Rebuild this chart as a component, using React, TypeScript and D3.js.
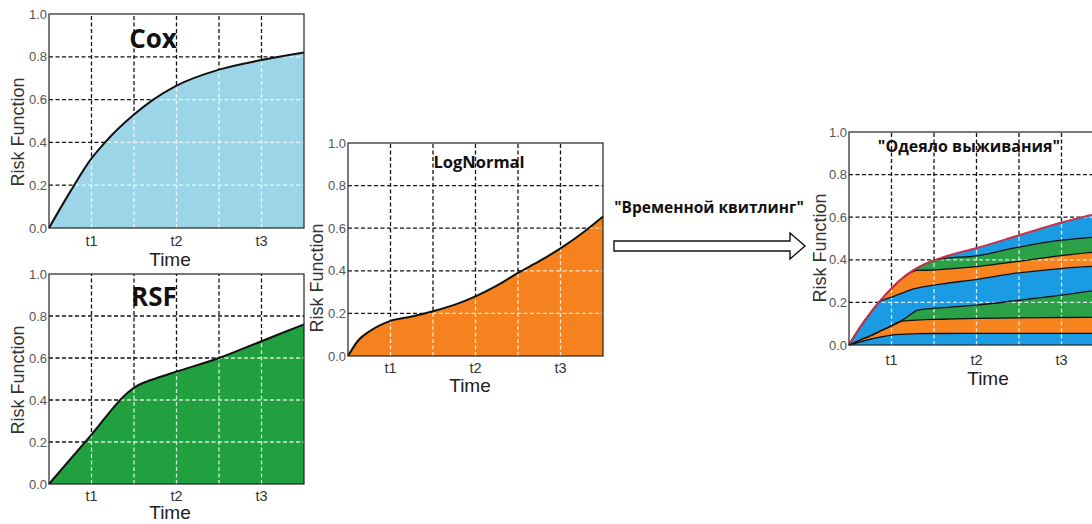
import React from 'react';
import * as d3 from 'd3';

// shared axes
const timeGrid = [1, 2, 3, 4, 5];
const timeTicks = [1, 3, 5];
const timeTickLabels = ['t1', 't2', 't3'];
const riskTicks = [0, 0.2, 0.4, 0.6, 0.8, 1.0];

// Cox
const coxTime = [0, 0.5, 1, 1.34, 2, 2.42, 3, 4, 5, 6];
const coxRisk = [0, 0.17, 0.325, 0.405, 0.53, 0.595, 0.665, 0.74, 0.785, 0.82];

// RSF
const rsfTime = [0, 1, 1.85, 2.05, 2.4, 3, 4, 5, 6];
const rsfRisk = [0, 0.235, 0.435, 0.465, 0.495, 0.535, 0.6, 0.68, 0.76];

// LogNormal
const logTime = [0, 0.25, 0.5, 1, 1.5, 2, 2.5, 3, 3.5, 4, 4.5, 5, 5.5, 6];
const logRisk = [0, 0.075, 0.115, 0.165, 0.185, 0.21, 0.24, 0.28, 0.33, 0.39, 0.445, 0.505, 0.575, 0.655];

// survival blanket: layer boundaries, bottom to top
const blanketTime = [0, 0.25, 0.5, 0.7, 1, 1.2, 1.5, 1.6, 2, 2.2, 3, 4, 5, 6];
const blanketB1 = [0, 0.014, 0.027, 0.036, 0.046, 0.05, 0.052, 0.053, 0.054, 0.054, 0.055, 0.055, 0.055, 0.055];
const blanketB2 = [0, 0.022, 0.043, 0.062, 0.09, 0.11, 0.116, 0.117, 0.12, 0.121, 0.125, 0.127, 0.129, 0.13];
const blanketB3 = [0, 0.022, 0.043, 0.062, 0.09, 0.11, 0.15, 0.163, 0.172, 0.175, 0.187, 0.21, 0.234, 0.262];
const blanketB4 = [0, 0.08, 0.15, 0.2, 0.225, 0.24, 0.262, 0.267, 0.281, 0.287, 0.308, 0.339, 0.359, 0.372];
const blanketB5 = [0, 0.08, 0.15, 0.2, 0.266, 0.304, 0.345, 0.35, 0.352, 0.355, 0.368, 0.393, 0.42, 0.44];
const blanketB6 = [0, 0.08, 0.15, 0.2, 0.266, 0.304, 0.349, 0.361, 0.397, 0.405, 0.418, 0.46, 0.492, 0.51];
const blanketTop = [0, 0.08, 0.15, 0.2, 0.266, 0.304, 0.349, 0.361, 0.397, 0.411, 0.455, 0.515, 0.575, 0.625];
const blanketColors = ['#1b9be3', '#f7841f', '#2aa147', '#1b9be3', '#f7841f', '#2aa147', '#1b9be3'];

const sans = 'Liberation Sans, Arial, sans-serif';
const ui = '"Open Sans", "Noto Sans", sans-serif';

type Layer = { lower: number[]; upper: number[]; fill: string };

function Panel(props: {
  id: string;
  left: number; right: number; top: number; bottom: number;
  time: number[];
  layers: Layer[];
  lines: number[][];
  topLine: number[];
  topStroke: string;
  title: string; titleSize: number; titleX: number; titleY: number;
  tickDy: number; timeDy: number; timeX: number;
  labelX: number; labelY: number;
}) {
  const p = props;
  const x = d3.scaleLinear().domain([0, 6]).range([p.left, p.right]);
  const y = d3.scaleLinear().domain([0, 1]).range([p.bottom, p.top]);
  const idx = d3.range(p.time.length);
  const area = (lo: number[], hi: number[]) =>
    d3.area<number>().x(i => x(p.time[i])).y0(i => y(lo[i])).y1(i => y(hi[i])).curve(d3.curveMonotoneX)(idx) || '';
  const line = (v: number[]) =>
    d3.line<number>().x(i => x(p.time[i])).y(i => y(v[i])).curve(d3.curveMonotoneX)(idx) || '';
  const zero = p.time.map(() => 0);

  const grid = (stroke: string, op: number) => (
    <g stroke={stroke} strokeOpacity={op} strokeWidth={1.3} strokeDasharray="4,2.5" fill="none">
      {timeGrid.map(t => <line key={'v' + t} x1={x(t)} x2={x(t)} y1={y(0)} y2={y(1)} />)}
      {riskTicks.slice(1, 5).map(r => <line key={'h' + r} x1={x(0)} x2={x(6)} y1={y(r)} y2={y(r)} />)}
    </g>
  );

  return (
    <g>
      <defs>
        <clipPath id={p.id + '-fill'}>
          <path d={area(zero, p.topLine)} />
        </clipPath>
      </defs>
      {grid('#111', 1)}
      {p.layers.map((l, i) => <path key={i} d={area(l.lower, l.upper)} fill={l.fill} />)}
      <g clipPath={`url(#${p.id}-fill)`}>{grid('#fff', 0.8)}</g>
      {p.lines.map((v, i) => <path key={i} d={line(v)} fill="none" stroke="#111" strokeWidth={1.3} />)}
      <path d={line(p.topLine)} fill="none" stroke={p.topStroke} strokeWidth={2} />
      <rect x={x(0)} y={y(1)} width={x(6) - x(0)} height={y(0) - y(1)} fill="none" stroke="#222" strokeWidth={1.2} />
      {riskTicks.map(r => (
        <text key={r} x={x(0) - 2} y={y(r) + 4.5} textAnchor="end" fontFamily={sans} fontSize={13} fill="#555">
          {d3.format('.1f')(r)}
        </text>
      ))}
      {timeTicks.map((t, i) => (
        <text key={t} x={x(t)} y={y(0) + p.tickDy} textAnchor="middle" fontFamily={sans} fontSize={14.5} fill="#333">
          {timeTickLabels[i]}
        </text>
      ))}
      <text x={p.timeX} y={y(0) + p.timeDy} textAnchor="middle" fontFamily={sans} fontSize={19} fill="#222">
        Time
      </text>
      <text transform={`translate(${p.labelX},${p.labelY}) rotate(-90)`} textAnchor="middle"
        fontFamily={sans} fontSize={18} fill="#333">
        Risk Function
      </text>
      <text x={p.titleX} y={p.titleY} textAnchor="middle" fontFamily={ui} fontWeight="bold"
        fontSize={p.titleSize} fill="#111">
        {p.title}
      </text>
    </g>
  );
}

export default function App() {
  const blanketLines = [blanketB1, blanketB2, blanketB3, blanketB4, blanketB5, blanketB6];
  const blanketBounds = [blanketTime.map(() => 0), ...blanketLines, blanketTop];
  const blanketLayers = blanketColors.map((c, i) => ({ lower: blanketBounds[i], upper: blanketBounds[i + 1], fill: c }));

  return (
    <svg width={1092} height={524} style={{ position: 'absolute', left: 0, top: 0, background: '#fff' }}>
      <Panel id="cox" left={49} right={304} top={14} bottom={228} time={coxTime}
        layers={[{ lower: coxTime.map(() => 0), upper: coxRisk, fill: '#9dd5e8' }]}
        lines={[]} topLine={coxRisk} topStroke="#111"
        title="Cox" titleSize={26} titleX={153} titleY={48}
        tickDy={18} timeDy={38} timeX={170} labelX={24} labelY={132} />
      <Panel id="rsf" left={49} right={304} top={274} bottom={484} time={rsfTime}
        layers={[{ lower: rsfTime.map(() => 0), upper: rsfRisk, fill: '#21a03f' }]}
        lines={[]} topLine={rsfRisk} topStroke="#111"
        title="RSF" titleSize={26} titleX={154} titleY={306}
        tickDy={17} timeDy={35} timeX={170} labelX={24} labelY={380} />
      <Panel id="lognormal" left={348} right={603} top={143} bottom={356} time={logTime}
        layers={[{ lower: logTime.map(() => 0), upper: logRisk, fill: '#f5821f' }]}
        lines={[]} topLine={logRisk} topStroke="#111"
        title="LogNormal" titleSize={16.5} titleX={479} titleY={168}
        tickDy={17} timeDy={36} timeX={470} labelX={323} labelY={278} />
      <Panel id="blanket" left={849} right={1104} top={132} bottom={345} time={blanketTime}
        layers={blanketLayers}
        lines={blanketLines} topLine={blanketTop} topStroke="#c8324c"
        title={'"Одеяло выживания"'} titleSize={16} titleX={969} titleY={152}
        tickDy={20} timeDy={40} timeX={988} labelX={826} labelY={248} />

      <text x={709} y={213} textAnchor="middle" fontFamily={ui} fontWeight="bold" fontSize={15.5} fill="#111">
        "Временной квитлинг"
      </text>
      <path d="M614,241 L790,241 L790,233 L805,246 L790,259 L790,251 L614,251 Z"
        fill="#fff" stroke="#111" strokeWidth={1.4} />
    </svg>
  );
}
